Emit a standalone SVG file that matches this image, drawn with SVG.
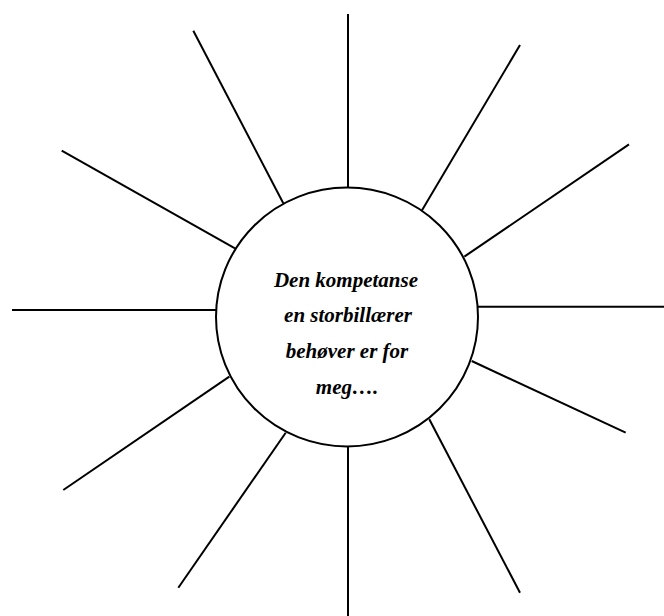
<svg xmlns="http://www.w3.org/2000/svg" width="664" height="616" viewBox="0 0 664 616">
<style>
.ray{stroke:#000;stroke-width:2;fill:none}
.c{stroke:#000;stroke-width:2;fill:#fff}
.t{font-family:"Liberation Serif","Times New Roman",serif;font-size:21px;font-weight:bold;font-style:italic;fill:#000;text-anchor:middle}
</style>
<rect width="664" height="616" fill="#fff"/>
<g id="connectors">
<line class="ray" x1="348" y1="14" x2="348" y2="188"/>
<line class="ray" x1="193.3" y1="30.7" x2="283.3" y2="203.3"/>
<line class="ray" x1="520" y1="45" x2="421.7" y2="210.7"/>
<line class="ray" x1="61.7" y1="150.7" x2="235" y2="248.3"/>
<line class="ray" x1="629" y1="144.3" x2="464.3" y2="256.7"/>
<line class="ray" x1="12" y1="310" x2="216" y2="310"/>
<line class="ray" x1="478" y1="306.7" x2="664" y2="306.7"/>
<line class="ray" x1="63.3" y1="490" x2="229.3" y2="376.7"/>
<line class="ray" x1="471.7" y1="361" x2="625.7" y2="432.7"/>
<line class="ray" x1="178.3" y1="587.7" x2="285.7" y2="432.7"/>
<line class="ray" x1="429.3" y1="419.3" x2="520" y2="592.7"/>
<line class="ray" x1="348" y1="446.5" x2="348" y2="616"/>
</g>
<g id="center">
<ellipse class="c" cx="347" cy="317" rx="131" ry="129.5"/>
<text class="t" x="346" y="286.7">Den kompetanse</text>
<text class="t" x="348" y="321.7">en storbillærer</text>
<text class="t" x="347" y="358.3">behøver er for</text>
<text class="t" x="347" y="394.3">meg….</text>
</g>
</svg>
